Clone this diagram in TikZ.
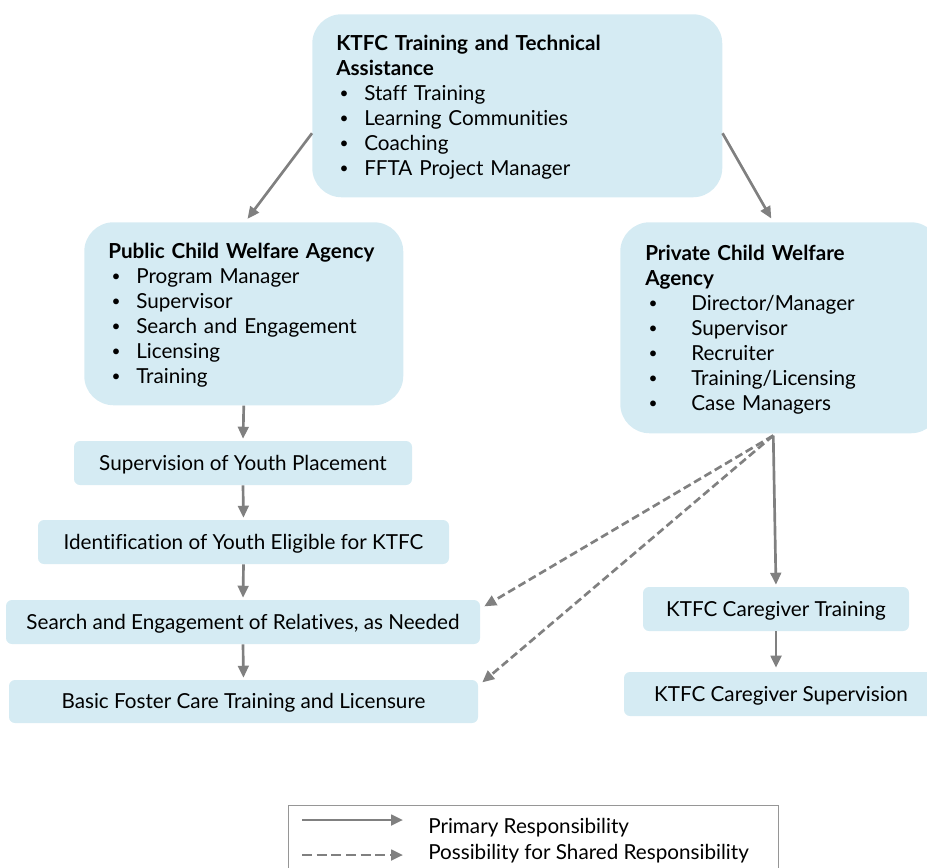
\documentclass[tikz,border=0pt]{standalone}
\usepackage{fontspec}
\setmainfont{Lato}[Ligatures=NoCommon]
\usepackage{tikz}
\usetikzlibrary{arrows.meta,positioning,calc}
\definecolor{boxblue}{RGB}{213,235,243}
\definecolor{arrgray}{RGB}{128,128,128}
\definecolor{keygray}{RGB}{150,150,150}
\newcommand{\bul}[2][21pt]{\makebox[#1][l]{\hspace{2.5pt}\raisebox{1.4pt}{\scalebox{0.75}{\textbullet}}}#2}

\tikzset{
  bigbox/.style={fill=boxblue, rounded corners=22pt, anchor=north west,
                 align=left, inner ysep=7.5pt},
  smallbox/.style={fill=boxblue, rounded corners=4.5pt, minimum height=33pt,
                   inner sep=0pt, text height=13.5pt, text depth=3pt},
  prim/.style={draw=arrgray, line width=2pt, -{Triangle[length=9pt,width=8pt]}},
  shared/.style={prim, dash pattern=on 6pt off 3pt},
  keytext/.style={anchor=base west, inner sep=0pt},
}

\begin{document}
\begin{tikzpicture}[x=0.75pt, y=-0.75pt, font=\fontsize{15.5}{18.75}\selectfont]
\useasboundingbox (0,0) rectangle (927,867);

%─── Agency boxes ────────────────────────────────────────────────────────────
\node[bigbox, inner xsep=18pt, text width=271.5pt, text height=19.5pt,
      text depth=102.75pt] (tta) at (312,14)
  {\textbf{KTFC Training and Technical}\\ \textbf{Assistance}\\
   \bul{Staff Training}\\ \bul{Learning Communities}\\
   \bul{Coaching}\\ \bul{FFTA Project Manager}};
\node[bigbox, inner xsep=18pt, text width=203.25pt, text height=19.5pt,
      text depth=102.75pt] (pub) at (84,222)
  {\textbf{Public Child Welfare Agency}\\
   \bul{Program Manager}\\ \bul{Supervisor}\\ \bul{Search and Engagement}\\
   \bul{Licensing}\\ \bul{Training}};
\node[bigbox, inner xsep=18.75pt, text width=202.5pt, text height=21pt,
      text depth=122.25pt] (priv) at (620,222)
  {\textbf{Private Child Welfare}\\ \textbf{Agency}\\
   \bul[34.5pt]{Director/Manager}\\ \bul[34.5pt]{Supervisor}\\
   \bul[34.5pt]{Recruiter}\\ \bul[34.5pt]{Training/Licensing}\\
   \bul[34.5pt]{Case Managers}};

%─── Steps ───────────────────────────────────────────────────────────────────
\node[smallbox, minimum width=253.5pt] (supv) at (243,463)
  {Supervision of Youth Placement};
\node[smallbox, minimum width=308.25pt] (ident) at (243.5,542)
  {Identification of Youth Eligible for KTFC};
\node[smallbox, minimum width=355.5pt] (search) at (243,622)
  {Search and Engagement of Relatives, as Needed};
\node[smallbox, minimum width=351.75pt, minimum height=32.25pt] (basic) at (243.5,701.5)
  {Basic Foster Care Training and Licensure};
\node[smallbox, minimum width=199.5pt] (cgtrain) at (776,609)
  {KTFC Caregiver Training};
\node[smallbox, minimum width=235.5pt] (cgsup) at (781,694)
  {KTFC Caregiver Supervision};

%─── Connectors ──────────────────────────────────────────────────────────────
\draw[prim, shorten >=3pt] ([yshift=-20.6pt]tta.west) -- ([xshift=1pt]pub.north);
\draw[prim, shorten >=3pt] ([yshift=-20.6pt]tta.east) -- ([xshift=-5.25pt]priv.north);
\draw[prim, shorten >=1.5pt] (pub.south) -- (supv.north);
\draw[prim, shorten >=1.5pt] (supv.south) -- (ident.north);
\draw[prim, shorten >=1.5pt] (ident.south) -- (search.north);
\draw[prim, shorten >=1.5pt] (search.south) -- (basic.north);
\coordinate (fork) at ([xshift=-5.25pt,yshift=-1.5pt]priv.south);
\draw[prim, shorten >=1.5pt] (fork) -- (cgtrain.north);
\draw[shared] (fork) -- ([xshift=3pt,yshift=-5pt]search.north east);
\draw[shared] (fork) -- ([xshift=3pt,yshift=-2pt]basic.north east);
\draw[prim, shorten >=3pt] (cgtrain.south) -- (cgtrain.south |- cgsup.north);

%─── Legend ──────────────────────────────────────────────────────────────────
\node[draw=keygray, line width=1pt, anchor=north west, minimum width=367.5pt,
      minimum height=60pt] (legend) at (288,805) {};
\coordinate (kp1) at (302,820);
\coordinate (kp2) at (403,820);
\coordinate (ks1) at (302,855);
\coordinate (ks2) at (403,855);
\draw[prim] (kp1) -- (kp2);
\draw[shared, dash pattern=on 7.5pt off 3.5pt] (ks1) -- (ks2);
\node[keytext] (kprim) at (428,833) {Primary Responsibility};
\node[keytext] (kshared) at (428,859) {Possibility for Shared Responsibility};

\end{tikzpicture}
\end{document}
